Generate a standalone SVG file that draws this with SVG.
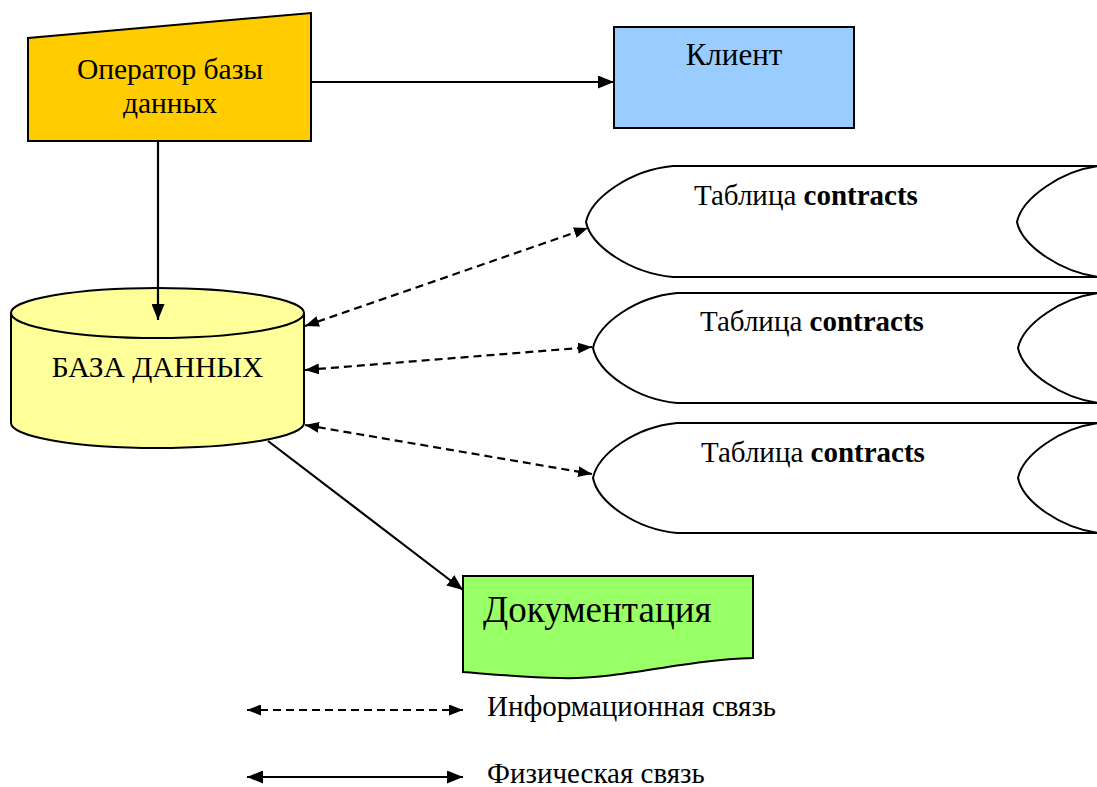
<svg xmlns="http://www.w3.org/2000/svg" width="1097" height="787" viewBox="0 0 1097 787">
<defs>
<marker id="ah" viewBox="0 0 16 13" refX="16" refY="6.5" markerWidth="16" markerHeight="13" markerUnits="userSpaceOnUse" orient="auto-start-reverse">
<path d="M0,0 L16,6.5 L0,13 Z" fill="#000"/>
</marker>
<marker id="ahs" viewBox="0 0 14 11" refX="14" refY="5.5" markerWidth="14" markerHeight="11" markerUnits="userSpaceOnUse" orient="auto-start-reverse">
<path d="M0,0 L14,5.5 L0,11 Z" fill="#000"/>
</marker>
</defs>
<style>
.sh{stroke:#000;stroke-width:2}
.ln{stroke:#000;stroke-width:2.2;fill:none}
.dl{stroke:#000;stroke-width:2.2;fill:none;stroke-dasharray:8,5}
</style>
<rect width="1097" height="787" fill="#fff"/>
<g font-family="Liberation Serif, Times New Roman, serif" fill="#000">
<g id="operator">
<polygon class="sh" points="28,38 311,13 311,141 28,141" fill="#FFCC00"/>
<text x="170" y="79" font-size="29.5" text-anchor="middle">Оператор базы</text>
<text x="170" y="113" font-size="29.5" text-anchor="middle">данных</text>
</g>
<g id="client">
<rect class="sh" x="614" y="27" width="240" height="101" fill="#99CCFF"/>
<text x="734" y="65" font-size="31" text-anchor="middle">Клиент</text>
</g>
<g id="database">
<path class="sh" d="M11,313 L11,423 A146.5,25 0 0 0 304,423 L304,313" fill="#FFFF99"/>
<ellipse class="sh" cx="157.5" cy="313" rx="146.5" ry="25" fill="#FFFF99"/>
<text x="157.5" y="377" font-size="29.5" text-anchor="middle">БАЗА ДАННЫХ</text>
</g>
<g id="table1">
<path class="sh" d="M673,166 L1100,166 C1062,170 1022,198 1017,222 C1022,246 1062,273 1100,277 L673,277 C630,273 591,246 586,222 C591,198 630,170 673,166 Z" fill="#fff"/>
<text x="694" y="205" font-size="29">Таблица <tspan font-weight="bold">contracts</tspan></text>
</g>
<g id="table2">
<path class="sh" d="M677,293 L1100,293 C1062,297 1023,324 1018,348 C1023,372 1062,399 1100,403 L677,403 C635,399 598,372 593,348 C598,324 635,297 677,293 Z" fill="#fff"/>
<text x="700" y="331" font-size="29">Таблица <tspan font-weight="bold">contracts</tspan></text>
</g>
<g id="table3">
<path class="sh" d="M677,423 L1100,423 C1062,427 1023,454 1018,478 C1023,502 1062,529 1100,533 L677,533 C635,529 598,502 593,478 C598,454 635,427 677,423 Z" fill="#fff"/>
<text x="701" y="462" font-size="29">Таблица <tspan font-weight="bold">contracts</tspan></text>
</g>
<g id="documentation">
<path class="sh" d="M463,576 L753,576 L753,658 C680,660 620,680 560,678 C520,677 490,674 463,672 Z" fill="#99FF66"/>
<text x="483" y="622" font-size="37">Документация</text>
</g>
<g id="connectors">
<line class="ln" x1="311" y1="82" x2="614" y2="82" marker-end="url(#ah)"/>
<line class="ln" x1="158" y1="141" x2="158" y2="320" marker-end="url(#ah)"/>
<line class="dl" x1="305" y1="326" x2="588" y2="228" marker-start="url(#ahs)" marker-end="url(#ahs)"/>
<line class="dl" x1="305" y1="370" x2="592" y2="347" marker-start="url(#ahs)" marker-end="url(#ahs)"/>
<line class="dl" x1="305" y1="425" x2="592" y2="474" marker-start="url(#ahs)" marker-end="url(#ahs)"/>
<line class="ln" x1="268" y1="441" x2="463" y2="590" marker-end="url(#ah)"/>
<line class="dl" x1="247" y1="710" x2="463" y2="710" marker-start="url(#ahs)" marker-end="url(#ahs)"/>
<line class="ln" x1="247" y1="777" x2="463" y2="777" marker-start="url(#ah)" marker-end="url(#ah)"/>
</g>
<g id="legend">
<text x="487" y="716" font-size="29">Информационная связь</text>
<text x="487" y="783" font-size="29">Физическая связь</text>
</g>
</g>
</svg>
